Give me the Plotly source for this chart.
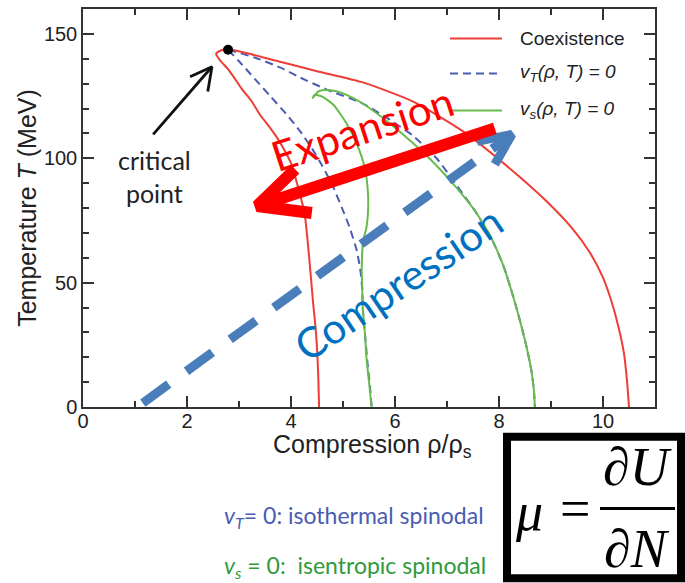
import plotly.graph_objects as go

# ---- phase-diagram curves (compression rho/rho_s, temperature T in MeV) ----
# Coexistence line: low-density foot -> tip near the critical point -> high-density foot
coex_x = [4.54, 4.52, 4.48, 4.42, 4.35, 4.26, 4.14, 4.00, 3.88, 3.74, 3.57, 3.40, 3.24, 3.05,
          2.92, 2.78, 2.63, 2.56, 2.65, 2.79, 3.20, 3.79, 4.50, 5.38, 6.35, 7.31, 8.27, 8.90,
          9.40, 9.75, 10.00, 10.17, 10.30, 10.40, 10.46, 10.50]
coex_T = [0, 15, 30, 43, 60, 78, 88, 98, 103, 108, 113, 117.6, 123, 128,
          132, 136, 139.5, 142, 143.3, 143.8, 142, 138.8, 135, 130.5, 122.8, 110.8, 94.8, 83,
          72, 62, 52, 42, 32, 22, 11, 0]

# Isothermal spinodal v_T = 0 (two branches leaving the critical point)
isoT_left_x = [2.79, 3.00, 3.30, 3.60, 3.90, 4.17, 4.40, 4.60, 4.80, 4.98, 5.13, 5.27, 5.34,
               5.37, 5.38, 5.42, 5.47, 5.52, 5.55]
isoT_left_T = [143.6, 139, 132, 125, 118, 111, 104, 97, 89, 80, 72, 62.5, 54,
               47, 40, 30, 18, 8, 0]
isoT_right_x = [2.79, 3.30, 3.79, 4.12, 4.70, 5.38, 5.90, 6.35, 6.80, 7.19, 7.55, 7.85, 8.08,
                8.25, 8.40, 8.52, 8.62, 8.67, 8.69]
isoT_right_T = [143.6, 140.5, 136.5, 133, 127.5, 122, 115.5, 109, 100, 89, 78.5, 68, 57,
                46, 35, 25, 15, 7, 0]

# Isentropic spinodal v_s = 0 (one closed-top curve)
isoS_x = [5.55, 5.50, 5.45, 5.42, 5.38, 5.37, 5.36, 5.39, 5.45, 5.48, 5.48, 5.42, 5.27, 5.08,
          4.81, 4.60, 4.45, 4.42, 4.52, 4.65, 4.85, 5.10, 5.38, 5.90, 6.35, 6.80, 7.19, 7.55,
          7.85, 8.08, 8.25, 8.40, 8.52, 8.62, 8.67, 8.69]
isoS_T = [0, 10, 20, 30, 40, 48, 55, 67, 72, 78, 86, 96, 105.6, 113.6,
          121.6, 124.8, 125.5, 124.2, 126.8, 127.4, 127, 125.2, 122, 114, 106, 97, 88, 78.5,
          68, 57, 46, 35, 25, 15, 7, 0]

crit_x, crit_T = [2.79], [143.6]

# ---- guide arrows (data coordinates) ----
crit_arrow_x = [1.35, 2.48]
crit_arrow_T = [109.6, 136.8]
crit_head_x = [2.06, 2.48, 2.40]
crit_head_T = [132.8, 136.8, 126.8]

exp_shaft_x = [7.92, 3.35]
exp_shaft_T = [112.0, 80.8]
exp_head_x = [4.08, 3.35, 4.40]
exp_head_T = [95.6, 80.8, 78.0]

comp_shaft_x = [1.15, 8.25]
comp_shaft_T = [1.6, 109.6]
comp_head_x = [7.58, 8.25, 7.92]
comp_head_T = [106.8, 109.6, 97.6]

x_ticks = [0, 2, 4, 6, 8, 10]
y_ticks = [0, 50, 100, 150]

RED = "#ee3d36"
BLUE = "#4a5cb2"
GREEN = "#66bb4c"
AXIS = "#333333"
TXT = "#222222"

fig = go.Figure()

fig.add_trace(go.Scatter(x=isoT_left_x, y=isoT_left_T, mode="lines", line_shape="spline",
                         line=dict(color=BLUE, width=2, dash="8px,5px", smoothing=0.6),
                         showlegend=False))
fig.add_trace(go.Scatter(x=isoT_right_x, y=isoT_right_T, mode="lines", line_shape="spline",
                         line=dict(color=BLUE, width=2, dash="8px,5px", smoothing=0.6),
                         showlegend=False))
fig.add_trace(go.Scatter(x=isoS_x, y=isoS_T, mode="lines", line_shape="spline",
                         line=dict(color=GREEN, width=2, smoothing=0.6), showlegend=False))
fig.add_trace(go.Scatter(x=coex_x, y=coex_T, mode="lines", line_shape="spline",
                         line=dict(color=RED, width=2, smoothing=0.6), showlegend=False))
fig.add_trace(go.Scatter(x=crit_x, y=crit_T, mode="markers",
                         marker=dict(color="black", size=10), showlegend=False))

# arrow to the critical point
for xs, ys in [(crit_arrow_x, crit_arrow_T), (crit_head_x, crit_head_T)]:
    fig.add_trace(go.Scatter(x=xs, y=ys, mode="lines", line=dict(color="#111111", width=2.8),
                             showlegend=False))

# compression arrow (dashed shaft, open head)
fig.add_trace(go.Scatter(x=comp_shaft_x, y=comp_shaft_T, mode="lines",
                         line=dict(color="#4a7ebb", width=9, dash="32px,22px"), showlegend=False))
fig.add_trace(go.Scatter(x=comp_head_x, y=comp_head_T, mode="lines",
                         line=dict(color="#4a7ebb", width=9), showlegend=False))

# expansion arrow (solid shaft, open head)
fig.add_trace(go.Scatter(x=exp_shaft_x, y=exp_shaft_T, mode="lines",
                         line=dict(color="#ff0000", width=12), showlegend=False))
fig.add_trace(go.Scatter(x=exp_head_x, y=exp_head_T, mode="lines",
                         line=dict(color="#ff0000", width=12), showlegend=False))

annotations = []
shapes = []

# labels inside the plot
annotations.append(dict(x=1.38, y=92.5, xref="x", yref="y", text="critical<br>point",
                        showarrow=False, font=dict(family="Lato", size=25, color=TXT)))
annotations.append(dict(x=5.38, y=112, xref="x", yref="y", text="Expansion", textangle=-18,
                        showarrow=False, font=dict(family="Lato", size=42, color="#ff0000")))
annotations.append(dict(x=6.06, y=50, xref="x", yref="y", text="Compression", textangle=-34,
                        showarrow=False, font=dict(family="Lato", size=42, color="#0070c0")))


def px_x(p):
    return (p - 83) / 572.0


def px_y(p):
    return (407 - p) / 400.0


# x-axis title, set just under the tick labels
annotations.append(dict(x=px_x(372), y=px_y(446), xref="paper", yref="paper",
                        text="Compression ρ/ρ<sub>s</sub>", xanchor="center", yanchor="middle",
                        showarrow=False,
                        font=dict(family="Liberation Sans", size=25, color=TXT)))

# legend block (top right of the axes)
legend_rows = [
    ("Coexistence", RED, "solid", 36.7),
    ("<i>v<sub>T</sub>(ρ, T) = 0</i>", BLUE, "8px,5px", 71.7),
    ("<i>v<sub>s</sub>(ρ, T) = 0</i>", GREEN, "solid", 109),
]
for label, col, dash, py in legend_rows:
    shapes.append(dict(type="line", xref="paper", yref="paper", x0=px_x(450), x1=px_x(502),
                       y0=px_y(py), y1=px_y(py), line=dict(color=col, width=2, dash=dash)))
    annotations.append(dict(x=px_x(518), y=px_y(py), xref="paper", yref="paper", text=label,
                            xanchor="left", yanchor="middle", showarrow=False,
                            font=dict(family="Liberation Sans", size=19, color=TXT)))

# notes below the axes
annotations.append(dict(x=px_x(222), y=px_y(517), xref="paper", yref="paper",
                        text="<i>v<sub>T</sub></i>= 0: isothermal spinodal",
                        xanchor="left", yanchor="middle", showarrow=False,
                        font=dict(family="Lato", size=23, color="#4a5cb2")))
annotations.append(dict(x=px_x(222), y=px_y(567), xref="paper", yref="paper",
                        text="<i>v<sub>s</sub></i> = 0:\u00a0 isentropic spinodal",
                        xanchor="left", yanchor="middle", showarrow=False,
                        font=dict(family="Lato", size=23, color="#2f9a3c")))

# chemical potential definition in a framed box
shapes.append(dict(type="rect", xref="paper", yref="paper", x0=px_x(507), x1=px_x(681),
                   y0=px_y(579), y1=px_y(437), line=dict(color="black", width=8),
                   fillcolor="white"))
shapes.append(dict(type="line", xref="paper", yref="paper", x0=px_x(600), x1=px_x(675),
                   y0=px_y(509), y1=px_y(509), line=dict(color="black", width=3)))
serif = dict(family="Liberation Serif", size=54, color="black")
for txt, cx, cy in [("<i>μ</i>", 529, 513), ("=", 575, 510),
                    ("<i>∂U</i>", 637, 467), ("<i>∂N</i>", 637, 550)]:
    annotations.append(dict(x=px_x(cx), y=px_y(cy), xref="paper", yref="paper", text=txt,
                            xanchor="center", yanchor="middle", showarrow=False, font=serif))

axis_common = dict(showline=True, linecolor=AXIS, linewidth=1.5, mirror="allticks",
                   ticks="inside", ticklen=11, tickwidth=1.5, tickcolor=AXIS,
                   showgrid=False, zeroline=False,
                   tickfont=dict(family="Liberation Sans", size=20, color=TXT))

fig.update_layout(
    width=685, height=583,
    margin=dict(l=83, r=30, t=7, b=176),
    paper_bgcolor="white", plot_bgcolor="white",
    xaxis=dict(range=[0, 11], tickvals=x_ticks, ticklabelstandoff=-5,
               minor=dict(dtick=1, ticklen=6, ticks="inside", tickcolor=AXIS, tickwidth=1.5),
               **axis_common),
    yaxis=dict(range=[0, 160], tickvals=y_ticks,
               minor=dict(dtick=10, ticklen=6, ticks="inside", tickcolor=AXIS, tickwidth=1.5),
               title=dict(text="Temperature <i>T</i> (MeV)", standoff=0,
                          font=dict(family="Liberation Sans", size=25, color=TXT)),
               **axis_common),
    annotations=annotations,
    shapes=shapes,
)

fig.write_html("out.html")
